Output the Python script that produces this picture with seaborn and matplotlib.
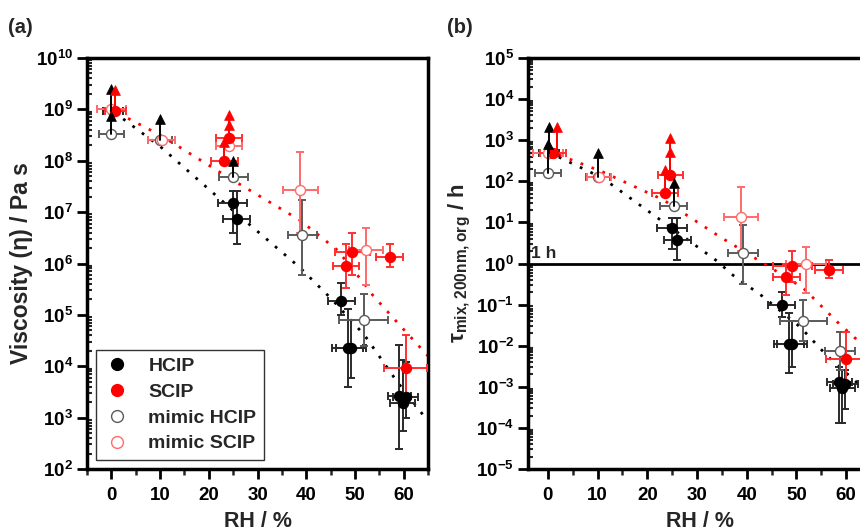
import numpy as np
import pandas as pd
import matplotlib
matplotlib.use("Agg")
import matplotlib.pyplot as plt
import matplotlib.ticker as mticker
from matplotlib.lines import Line2D
import seaborn as sns

sns.set_theme(style="ticks")
plt.rcParams['font.family'] = ['Liberation Sans', 'DejaVu Sans']
plt.rcParams['font.weight'] = 'bold'
plt.rcParams['mathtext.fontset'] = 'custom'
plt.rcParams['mathtext.rm'] = 'Liberation Sans:bold'
plt.rcParams['mathtext.bf'] = 'Liberation Sans:bold'
plt.rcParams['mathtext.it'] = 'DejaVu Sans'
plt.rcParams['mathtext.default'] = 'bf'
plt.rcParams['axes.unicode_minus'] = False

# ---------------- Panel (a): viscosity ----------------
a_hcip_rh   = [0.3, 24.9, 25.7, 47.2, 48.5, 49.2, 59.1, 59.8, 60.4]
a_hcip_val  = [9.5e8, 1.5e7, 7.2e6, 1.9e5, 2.3e4, 2.3e4, 2.6e3, 1.9e3, 2.5e3]
a_hcip_xerr = [2.0, 3.0, 2.7, 2.8, 3.2, 3.0, 2.4, 2.6, 2.5]
a_hcip_lo   = [9.5e8, 4.0e6, 2.4e6, 1.0e5, 4.0e3, 5.9e3, 2.4e2, 5.5e2, 1.0e3]
a_hcip_hi   = [9.5e8, 2.6e7, 2.6e7, 4.2e5, 1.3e5, 8.0e4, 2.6e4, 1.3e4, 1.2e4]

a_mhcip_rh   = [0.0, 10.0, 25.0, 39.2, 51.8]
a_mhcip_val  = [3.3e8, 2.5e8, 4.8e7, 3.6e6, 8.0e4]
a_mhcip_xerr = [2.5, 2.5, 3.0, 3.0, 5.0]
a_mhcip_lo   = [3.3e8, 2.5e8, 4.8e7, 6.0e5, 2.5e4]
a_mhcip_hi   = [3.3e8, 2.5e8, 4.8e7, 1.7e7, 2.5e5]

a_scip_rh   = [0.8, 23.2, 24.2, 48.2, 49.5, 57.1, 60.4]
a_scip_val  = [9.5e8, 1.0e8, 2.8e8, 8.9e5, 1.7e6, 1.35e6, 9.4e3]
a_scip_xerr = [2.2, 2.7, 2.7, 2.7, 3.5, 2.7, 4.4]
a_scip_lo   = [9.5e8, 1.0e8, 2.8e8, 3.4e5, 6.0e5, 8.5e5, 2.5e3]
a_scip_hi   = [9.5e8, 1.0e8, 2.8e8, 2.4e6, 4.0e6, 2.4e6, 4.0e4]

a_mscip_rh   = [0.0, 10.3, 24.2, 38.8, 52.3]
a_mscip_val  = [1.0e9, 2.5e8, 1.9e8, 2.7e7, 1.8e6]
a_mscip_xerr = [3.0, 2.7, 2.7, 3.6, 3.5]
a_mscip_lo   = [1.0e9, 2.5e8, 1.9e8, 4.0e6, 3.8e5]
a_mscip_hi   = [1.0e9, 2.5e8, 1.9e8, 1.5e8, 4.9e6]

# lower-limit arrows (x, from, to, colour key)
a_arrow_x    = [0.0, 0.0, 10.0, 25.0, 0.8, 23.2, 24.2, 24.2]
a_arrow_from = [9.5e8, 3.3e8, 2.5e8, 4.8e7, 9.5e8, 1.0e8, 2.8e8, 2.8e8]
a_arrow_to   = [2.5e9, 7.5e8, 6.5e8, 1.0e8, 2.4e9, 2.3e8, 5.0e8, 7.8e8]
a_arrow_col  = ['k', 'k', 'k', 'k', 'r', 'r', 'r', 'r']

a_fitk_rh  = [0.5, 10, 25, 38.6, 45.4, 52, 58.5, 65]
a_fitk_log = [8.95, 8.28, 7.03, 5.93, 5.29, 4.6, 3.72, 2.93]
a_fitr_rh  = [1.3, 10, 24.8, 38.6, 46.4, 51.8, 53.6, 59.1, 65]
a_fitr_log = [8.93, 8.5, 7.63, 6.85, 6.26, 5.62, 5.39, 4.81, 4.2]

# ---------------- Panel (b): mixing time ----------------
b_hcip_rh   = [0.3, 25.0, 26.0, 47.0, 48.5, 49.1, 58.6, 59.2, 59.8]
b_hcip_val  = [5.0e2, 7.3, 3.7, 0.098, 0.011, 0.011, 1.3e-3, 9.3e-4, 1.2e-3]
b_hcip_xerr = [2.0, 3.0, 2.7, 2.7, 3.0, 3.0, 2.5, 2.5, 2.5]
b_hcip_lo   = [5.0e2, 2.2, 1.2, 0.05, 2.2e-3, 3.0e-3, 1.3e-4, 1.3e-4, 2.9e-4]
b_hcip_hi   = [5.0e2, 13.0, 13.0, 0.2, 0.063, 0.04, 3.0e-3, 2.5e-3, 2.5e-3]

b_mhcip_rh   = [0.0, 10.0, 25.3, 39.2, 51.4, 58.8]
b_mhcip_val  = [1.6e2, 1.3e2, 25.0, 1.8, 0.04, 7.4e-3]
b_mhcip_xerr = [2.6, 2.4, 2.7, 3.0, 4.8, 3.0]
b_mhcip_lo   = [1.6e2, 1.3e2, 25.0, 0.32, 0.013, 2.5e-3]
b_mhcip_hi   = [1.6e2, 1.3e2, 25.0, 8.7, 0.13, 0.021]

b_scip_rh   = [1.0, 23.6, 24.6, 48.0, 49.2, 56.6, 60.0]
b_scip_val  = [4.9e2, 52.0, 1.4e2, 0.47, 0.85, 0.69, 4.8e-3]
b_scip_xerr = [2.6, 2.6, 2.5, 2.7, 3.9, 2.8, 4.0]
b_scip_lo   = [4.9e2, 52.0, 1.4e2, 0.17, 0.35, 0.45, 1.3e-3]
b_scip_hi   = [4.9e2, 52.0, 1.4e2, 1.0, 2.0, 1.2, 0.021]

b_mscip_rh   = [0.0, 10.3, 38.8, 52.0]
b_mscip_val  = [5.0e2, 1.3e2, 13.5, 1.0]
b_mscip_xerr = [3.0, 2.4, 3.4, 4.0]
b_mscip_lo   = [5.0e2, 1.3e2, 2.0, 0.19]
b_mscip_hi   = [5.0e2, 1.3e2, 72.0, 2.5]

b_arrow_x    = [0.3, 0.0, 10.0, 25.3, 1.8, 23.6, 24.6, 24.6]
b_arrow_from = [5.0e2, 1.6e2, 1.3e2, 25.0, 4.9e2, 52.0, 1.4e2, 1.4e2]
b_arrow_to   = [2.1e3, 8.0e2, 4.9e2, 91.0, 2.1e3, 1.9e2, 5.3e2, 1.1e3]
b_arrow_col  = ['k', 'k', 'k', 'k', 'r', 'r', 'r', 'r']

b_fitk_rh  = [2.2, 11, 23.2, 34.6, 36.6, 43.2, 50.8, 56.2, 62.2, 64]
b_fitk_log = [2.59, 2.08, 1.01, 0.01, -0.23, -0.8, -1.55, -2.25, -2.9, -3.15]
b_fitr_rh  = [2.2, 11, 23.2, 34.6, 44.8, 51.4, 58.2, 62.4]
b_fitr_log = [2.64, 2.23, 1.55, 0.65, -0.1, -0.6, -1.42, -1.88]

x_ticks = [0, 10, 20, 30, 40, 50, 60]

# colours
C_HCIP, C_HCIP_ERR = 'black', '#2a2a2a'
C_MHCIP = '#5a5a5a'
C_SCIP, C_SCIP_ERR = '#ff0000', '#ff3030'
C_MSCIP = '#ff6a6a'

fig = plt.figure(figsize=(8.6, 5.31), dpi=100)
axa = fig.add_axes([87/860, 62/531, 341/860, 411/531])
axb = fig.add_axes([528/860, 62/531, 343/860, 411/531])


def draw_series(ax, rh, val, xerr, lo, hi, face, edge, ecol, size=52, z=3):
    val = np.asarray(val, float)
    yerr = np.vstack([val - np.asarray(lo, float), np.asarray(hi, float) - val])
    ax.errorbar(rh, val, xerr=xerr, yerr=yerr, fmt='none', ecolor=ecol,
                elinewidth=1.4, capsize=3.2, capthick=1.4, zorder=z)
    df = pd.DataFrame({'RH': rh, 'v': val})
    sns.scatterplot(data=df, x='RH', y='v', ax=ax, marker='o', s=size,
                    color=face, edgecolor=edge, linewidth=1.0, zorder=z + 0.5,
                    legend=False)


def draw_arrows(ax, xs, y0, y1, cols):
    for x, a, b, c in zip(xs, y0, y1, cols):
        col = 'black' if c == 'k' else '#ff0000'
        ax.plot([x, x], [a, b], color=col, lw=1.4, zorder=5)
    df = pd.DataFrame({'x': xs, 'y': y1, 'c': cols})
    for c, sub in df.groupby('c'):
        col = 'black' if c == 'k' else '#ff0000'
        sns.scatterplot(data=sub, x='x', y='y', ax=ax, marker='^', s=50,
                        color=col, edgecolor=col, linewidth=0.5, zorder=6,
                        legend=False)


def draw_fit(ax, rh, lg, col):
    df = pd.DataFrame({'RH': rh, 'v': 10 ** np.asarray(lg, float)})
    sns.lineplot(data=df, x='RH', y='v', ax=ax, color=col, lw=2.0,
                 linestyle=(0, (1, 3.2)), zorder=2, legend=False)


def style_axis(ax, xlim, ylim):
    ax.set_yscale('log')
    ax.set_xlim(*xlim)
    ax.set_ylim(*ylim)
    ax.set_xticks(x_ticks)
    ax.xaxis.set_minor_locator(mticker.MultipleLocator(5))
    ax.yaxis.set_major_locator(mticker.LogLocator(base=10, numticks=20))
    ax.yaxis.set_minor_locator(mticker.LogLocator(base=10, subs=np.arange(2, 10), numticks=20))
    ax.yaxis.set_minor_formatter(mticker.NullFormatter())
    for s in ax.spines.values():
        s.set_linewidth(2.5)
        s.set_color('black')
    ax.tick_params(axis='both', which='major', direction='out', length=7, width=2,
                   labelsize=13.5, colors='black', pad=3)
    ax.tick_params(axis='x', which='major', pad=6)
    ax.tick_params(axis='y', which='minor', direction='in', length=3.5, width=1.5)
    ax.tick_params(axis='x', which='minor', direction='out', length=4.5, width=1.8)
    for lab in ax.get_xticklabels() + ax.get_yticklabels():
        lab.set_fontweight('bold')
    ax.set_xlabel('RH / %', fontsize=15.5, fontweight='bold', labelpad=5)


# ---- panel a ----
draw_fit(axa, a_fitk_rh, a_fitk_log, 'black')
draw_fit(axa, a_fitr_rh, a_fitr_log, '#ff0000')
draw_series(axa, a_hcip_rh, a_hcip_val, a_hcip_xerr, a_hcip_lo, a_hcip_hi, C_HCIP, C_HCIP, C_HCIP_ERR, z=3)
draw_series(axa, a_mhcip_rh, a_mhcip_val, a_mhcip_xerr, a_mhcip_lo, a_mhcip_hi, 'white', C_MHCIP, C_MHCIP, z=3.1)
draw_series(axa, a_mscip_rh, a_mscip_val, a_mscip_xerr, a_mscip_lo, a_mscip_hi, 'white', C_MSCIP, C_MSCIP, z=3.2)
draw_series(axa, a_scip_rh, a_scip_val, a_scip_xerr, a_scip_lo, a_scip_hi, C_SCIP, C_SCIP, C_SCIP_ERR, z=3.3)
draw_arrows(axa, a_arrow_x, a_arrow_from, a_arrow_to, a_arrow_col)
style_axis(axa, (-5, 65), (1e2, 1e10))
axa.set_ylabel('Viscosity (η) / Pa s', fontsize=16.5, fontweight='bold', labelpad=2)

handles = [
    Line2D([], [], marker='o', ls='none', markersize=8.5, mfc='black', mec='black'),
    Line2D([], [], marker='o', ls='none', markersize=8.5, mfc='#ff0000', mec='#ff0000'),
    Line2D([], [], marker='o', ls='none', markersize=8.5, mfc='white', mec=C_MHCIP),
    Line2D([], [], marker='o', ls='none', markersize=8.5, mfc='white', mec=C_MSCIP),
]
leg = axa.legend(handles, ['HCIP', 'SCIP', 'mimic HCIP', 'mimic SCIP'],
                 loc='lower left', bbox_to_anchor=(0.0, 0.0), frameon=True,
                 fancybox=False, framealpha=1, edgecolor='#333333',
                 prop={'weight': 'bold', 'size': 14}, handletextpad=0.9,
                 labelspacing=0.42, borderpad=0.4, handlelength=1.4,
                 borderaxespad=0.45)
leg.get_frame().set_linewidth(1.0)

# ---- panel b ----
axb.axhline(1.0, color='black', lw=2.0, zorder=1)
draw_fit(axb, b_fitk_rh, b_fitk_log, 'black')
draw_fit(axb, b_fitr_rh, b_fitr_log, '#ff0000')
draw_series(axb, b_hcip_rh, b_hcip_val, b_hcip_xerr, b_hcip_lo, b_hcip_hi, C_HCIP, C_HCIP, C_HCIP_ERR, z=3)
draw_series(axb, b_mhcip_rh, b_mhcip_val, b_mhcip_xerr, b_mhcip_lo, b_mhcip_hi, 'white', C_MHCIP, C_MHCIP, z=3.1)
draw_series(axb, b_mscip_rh, b_mscip_val, b_mscip_xerr, b_mscip_lo, b_mscip_hi, 'white', C_MSCIP, C_MSCIP, z=3.2)
draw_series(axb, b_scip_rh, b_scip_val, b_scip_xerr, b_scip_lo, b_scip_hi, C_SCIP, C_SCIP, C_SCIP_ERR, z=3.3)
draw_arrows(axb, b_arrow_x, b_arrow_from, b_arrow_to, b_arrow_col)
style_axis(axb, (-4, 65), (1e-5, 1e5))
axb.set_ylabel(r'$\tau_{\mathbf{mix,200nm,org}}$ / h', fontsize=16, fontweight='bold', labelpad=2)
axb.text(-3.3, 1.12, '1 h', fontsize=12.5, fontweight='bold', ha='left', va='bottom')

fig.text(8/860, 1 - 33/531, '(a)', fontsize=14.5, fontweight='bold', ha='left', va='baseline')
fig.text(447/860, 1 - 33/531, '(b)', fontsize=14.5, fontweight='bold', ha='left', va='baseline')

fig.savefig('out.png', dpi=100)
